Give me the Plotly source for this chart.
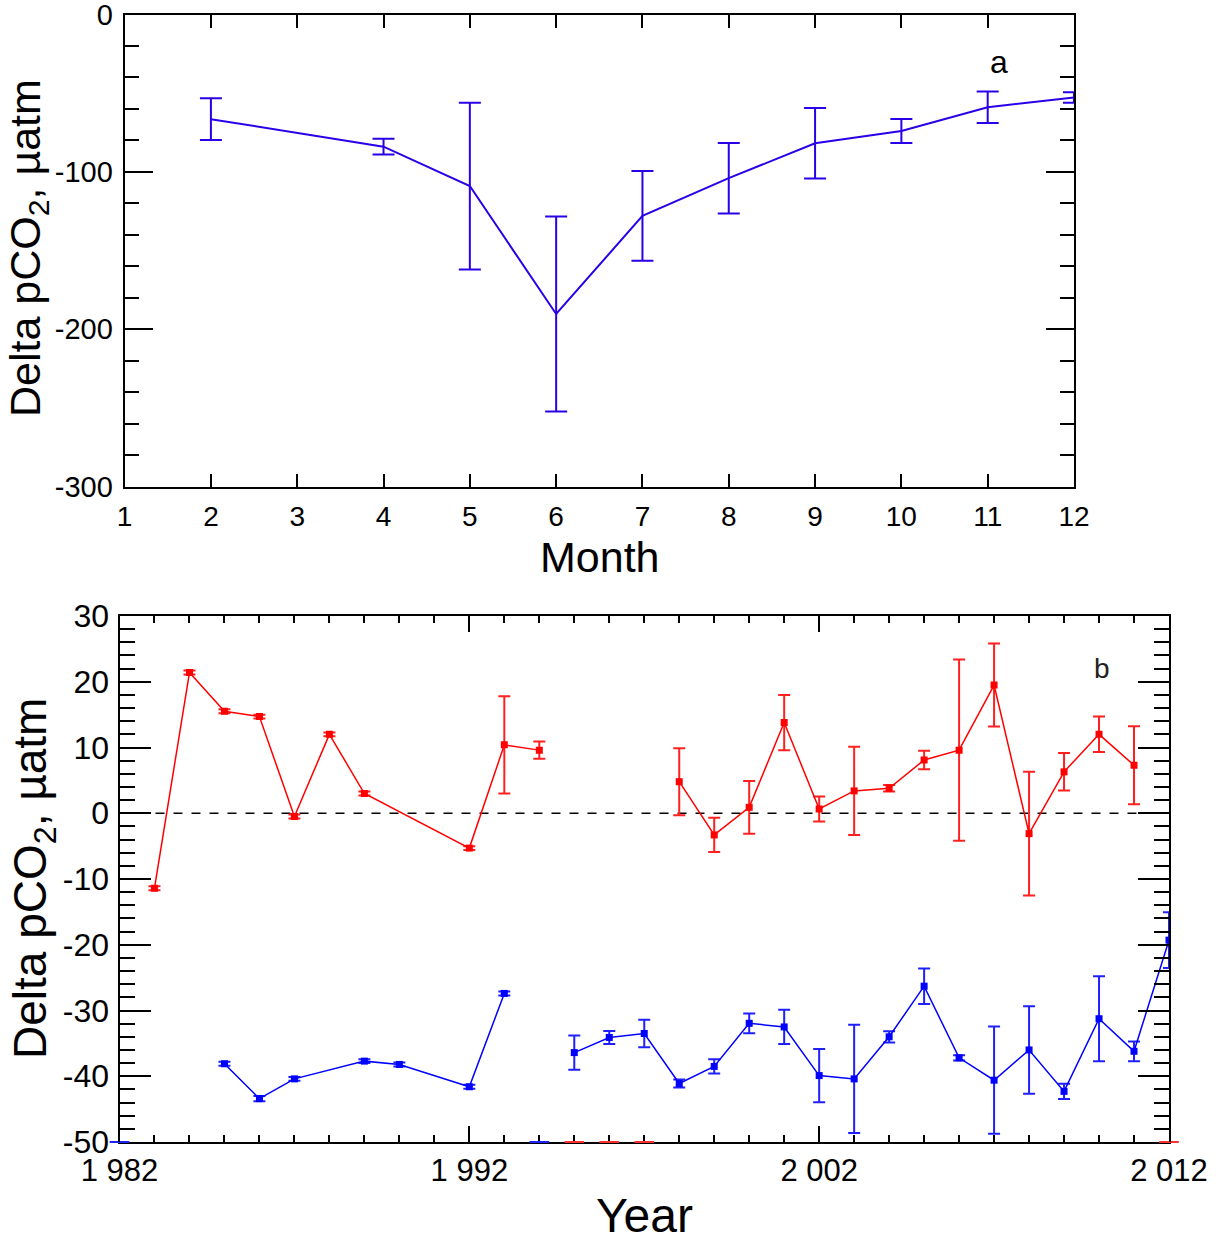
import plotly.graph_objects as go

# Panel a: monthly mean Delta pCO2 with standard deviation
months = [2, 4, 5, 6, 7, 8, 9, 10, 11, 12]
month_vals = [-66.5, -84.0, -109.0, -190.3, -128.0, -104.0, -81.8, -74.0, -59.0, -52.7]
month_err = [13.3, 5.0, 53.0, 62.0, 28.5, 22.4, 22.4, 7.6, 10.0, 3.3]
month_yticks = [0, -100, -200, -300]
month_yticktext = ["0", "-100", "-200", "-300"]

# Panel b: annual Delta pCO2, two series (None marks a missing year -> line break)
red_years = [1983, 1984, 1985, 1986, 1987, 1988, 1989, 1992, 1993, 1994, 1995,
             1998, 1999, 2000, 2001, 2002, 2003, 2004, 2005, 2006, 2007, 2008,
             2009, 2010, 2011]
red_vals = [-11.4, 21.4, 15.5, 14.7, -0.5, 12.0, 3.0, -5.3, 10.4, 9.6, None,
            4.8, -3.3, 0.9, 13.8, 0.65, 3.4, 3.8, 8.1, 9.6, 19.5, -3.1,
            6.3, 12.0, 7.3]
red_err = [0.3, 0.3, 0.3, 0.3, 0.3, 0.3, 0.3, 0.3, 7.4, 1.3, None,
           5.1, 2.6, 4.0, 4.2, 1.9, 6.7, 0.5, 1.4, 13.8, 6.3, 9.4,
           2.85, 2.7, 5.95]

blue_years = [1985, 1986, 1987, 1989, 1990, 1992, 1993, 1994,
              1995, 1996, 1997, 1998, 1999, 2000, 2001, 2002, 2003, 2004,
              2005, 2006, 2007, 2008, 2009, 2010, 2011, 2012]
blue_vals = [-38.1, -43.4, -40.4, -37.7, -38.2, -41.6, -27.4, None,
             -36.4, -34.1, -33.5, -41.1, -38.5, -31.95, -32.5, -39.9, -40.4, -34.0,
             -26.3, -37.2, -40.6, -36.0, -42.3, -31.25, -36.2, -19.3]
blue_err = [0.3, 0.4, 0.3, 0.3, 0.3, 0.3, 0.3, None,
            2.6, 1.0, 2.1, 0.6, 1.1, 1.5, 2.6, 4.05, 8.25, 0.85,
            2.7, 0.4, 8.15, 6.65, 1.15, 6.45, 1.5, 4.25]

# years without a value, shown as short dashes sitting on the bottom axis
red_missing_years = [1995, 1996, 1997, 2012]
blue_missing_years = [1982, 1994]

year_ticks = [1982, 1992, 2002, 2012]
year_ticktext = ["1 982", "1 992", "2 002", "2 012"]
delta_yticks = [30, 20, 10, 0, -10, -20, -30, -40, -50]
delta_yticktext = ["30", "20", "10", "0", "-10", "-20", "-30", "-40", "-50"]

W, H = 1223, 1240
FONT = "Liberation Sans, Arial, sans-serif"
TOP_BLUE = "#2a00e8"


def px_x(p):
    return p / W


def px_y(p):
    return 1 - p / H


fig = go.Figure()

fig.add_trace(go.Scatter(
    x=months, y=month_vals, mode="lines",
    line=dict(color=TOP_BLUE, width=2),
    error_y=dict(type="data", array=month_err, color=TOP_BLUE, thickness=2, width=11),
    xaxis="x", yaxis="y", showlegend=False,
))

fig.add_trace(go.Scatter(
    x=red_years, y=red_vals, mode="lines+markers",
    line=dict(color="#ff0000", width=1.5),
    marker=dict(symbol="square", size=7, color="#ff0000"),
    error_y=dict(type="data", array=red_err, color="#ff2020", thickness=2, width=6),
    connectgaps=False, xaxis="x2", yaxis="y2", showlegend=False,
))

fig.add_trace(go.Scatter(
    x=blue_years, y=blue_vals, mode="lines+markers",
    line=dict(color="#0000ff", width=1.5),
    marker=dict(symbol="square", size=7, color="#0000ff"),
    error_y=dict(type="data", array=blue_err, color="#2020ff", thickness=2, width=6),
    connectgaps=False, xaxis="x2", yaxis="y2", showlegend=False,
))

for yrs, col in ((red_missing_years, "#ff3030"), (blue_missing_years, "#2020ff")):
    fig.add_trace(go.Scatter(
        x=yrs, y=[-50] * len(yrs), mode="markers",
        marker=dict(symbol="line-ew", size=14, line=dict(color=col, width=2)),
        cliponaxis=False, xaxis="x2", yaxis="y2", showlegend=False,
    ))

axis_common = dict(showgrid=False, zeroline=False, showline=True, linecolor="black",
                   mirror="ticks", ticks="inside", tickcolor="black", automargin=False,
                   ticklabeloverflow="allow")

fig.update_layout(
    width=W, height=H,
    margin=dict(l=0, r=0, t=0, b=0),
    paper_bgcolor="white", plot_bgcolor="white",
    font=dict(family=FONT, color="black"),
    xaxis=dict(**axis_common, domain=[px_x(124.6), px_x(1074)], range=[1, 12],
               tickvals=list(range(1, 13)), ticklen=13, tickwidth=2, linewidth=2,
               tickfont=dict(size=28), ticklabelstandoff=4, anchor="y"),
    yaxis=dict(**axis_common, domain=[px_y(486.6), px_y(14.5)], range=[-300, 0.0001],
               tickvals=month_yticks, ticktext=month_yticktext,
               ticklen=28, tickwidth=2, linewidth=2, ticklabelstandoff=4,
               tickfont=dict(size=29), anchor="x",
               minor=dict(dtick=20, tick0=0, ticklen=14, ticks="inside",
                          tickcolor="black", tickwidth=2)),
    xaxis2=dict(**axis_common, domain=[px_x(119.5), px_x(1169)], range=[1982, 2012],
                tickvals=year_ticks, ticktext=year_ticktext, ticklen=16, tickwidth=2,
                linewidth=2, tickfont=dict(size=31), anchor="y2", layer="below traces",
                minor=dict(dtick=1, tick0=1982, ticklen=7, ticks="inside",
                           tickcolor="black", tickwidth=2)),
    yaxis2=dict(**axis_common, domain=[px_y(1142), px_y(616)], range=[-50, 30],
                tickvals=delta_yticks, ticktext=delta_yticktext,
                ticklen=31, tickwidth=2, linewidth=2, ticklabelstandoff=2,
                tickfont=dict(size=32), anchor="x2",
                minor=dict(dtick=2, tick0=0, ticklen=15, ticks="inside",
                           tickcolor="black", tickwidth=2)),
    shapes=[dict(type="line", xref="x2", yref="y2", x0=1982, x1=2012, y0=0, y1=0,
                 line=dict(color="black", width=1.5, dash="dash"), layer="below")],
    annotations=[
        dict(text="Delta pCO<sub>2</sub>, µatm", xref="paper", yref="paper",
             x=px_x(28), y=px_y(248), textangle=-90, showarrow=False,
             font=dict(size=43), xanchor="center", yanchor="middle"),
        dict(text="Month", xref="paper", yref="paper", x=px_x(600), y=px_y(557),
             showarrow=False, font=dict(size=43), xanchor="center", yanchor="middle"),
        dict(text="a", xref="paper", yref="paper", x=px_x(999), y=px_y(62),
             showarrow=False, font=dict(size=32), xanchor="center", yanchor="middle"),
        dict(text="Delta pCO<sub>2</sub>, µatm", xref="paper", yref="paper",
             x=px_x(33), y=px_y(879), textangle=-90, showarrow=False,
             font=dict(size=46), xanchor="center", yanchor="middle"),
        dict(text="Year", xref="paper", yref="paper", x=px_x(645), y=px_y(1215),
             showarrow=False, font=dict(size=48), xanchor="center", yanchor="middle"),
        dict(text="b", xref="paper", yref="paper", x=px_x(1102), y=px_y(668),
             showarrow=False, font=dict(size=28, color="#222222"),
             xanchor="center", yanchor="middle"),
    ],
)

fig.write_html("out.html")
